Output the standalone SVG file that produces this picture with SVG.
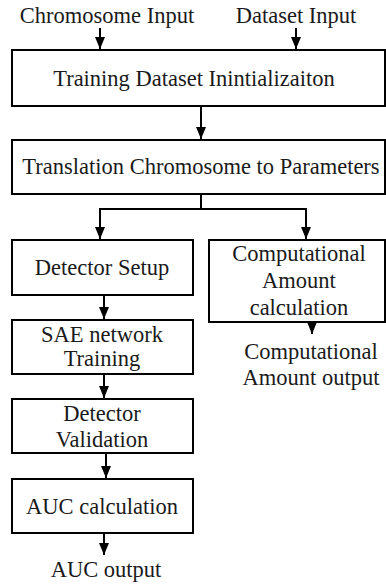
<svg xmlns="http://www.w3.org/2000/svg" width="386" height="587" viewBox="0 0 386 587">
  <style>
    .box { fill: #ffffff; stroke: #000000; stroke-width: 2; }
    .lbl { font-family: "Liberation Serif", "Times New Roman", serif; font-size: 22.5px; fill: #1a1a1a; text-anchor: middle; }
    .wire { fill: none; stroke: #000000; stroke-width: 2; }
  </style>
  <defs>
    <marker id="arrow" viewBox="0 0 12 10" refX="12" refY="5" markerWidth="12" markerHeight="10" markerUnits="userSpaceOnUse" orient="auto">
      <path d="M0,0 L12,5 L0,10 Z" fill="#000000"/>
    </marker>
  </defs>
  <rect width="386" height="587" fill="#ffffff"/>

  <!-- inputs -->
  <g id="chromosome-input"><text class="lbl" font-family="Liberation Serif" x="107" y="23">Chromosome Input</text></g>
  <g id="dataset-input"><text class="lbl" font-family="Liberation Serif" x="296" y="23">Dataset Input</text></g>

  <!-- processing steps -->
  <g id="training-init">
    <rect class="box" x="12" y="50" width="373" height="56"/>
    <text class="lbl" font-family="Liberation Serif" x="194" y="86">Training Dataset Inintializaiton</text>
  </g>
  <g id="translation">
    <rect class="box" x="12" y="140" width="373" height="54"/>
    <text class="lbl" font-family="Liberation Serif" x="201" y="174">Translation Chromosome to Parameters</text>
  </g>
  <g id="detector-setup">
    <rect class="box" x="12" y="240" width="181" height="55"/>
    <text class="lbl" font-family="Liberation Serif" x="102" y="275">Detector Setup</text>
  </g>
  <g id="computational-calc">
    <rect class="box" x="209" y="240" width="176" height="82"/>
    <text class="lbl" font-family="Liberation Serif" x="299" y="261">Computational</text>
    <text class="lbl" font-family="Liberation Serif" x="299" y="288">Amount</text>
    <text class="lbl" font-family="Liberation Serif" x="299" y="315">calculation</text>
  </g>
  <g id="sae-training">
    <rect class="box" x="12" y="320" width="181" height="54"/>
    <text class="lbl" font-family="Liberation Serif" x="102" y="342">SAE network</text>
    <text class="lbl" font-family="Liberation Serif" x="102" y="366">Training</text>
  </g>
  <g id="detector-validation">
    <rect class="box" x="12" y="399" width="181" height="54"/>
    <text class="lbl" font-family="Liberation Serif" x="102" y="421">Detector</text>
    <text class="lbl" font-family="Liberation Serif" x="102" y="447">Validation</text>
  </g>
  <g id="auc-calc">
    <rect class="box" x="12" y="479" width="181" height="54"/>
    <text class="lbl" font-family="Liberation Serif" x="102" y="514">AUC calculation</text>
  </g>

  <!-- outputs -->
  <g id="computational-output">
    <text class="lbl" font-family="Liberation Serif" x="311" y="359">Computational</text>
    <text class="lbl" font-family="Liberation Serif" x="311" y="385">Amount output</text>
  </g>
  <g id="auc-output"><text class="lbl" font-family="Liberation Serif" x="106" y="577">AUC output</text></g>

  <!-- connectors -->
  <g id="connectors">
    <line class="wire" x1="100" y1="28" x2="100" y2="49" marker-end="url(#arrow)"/>
    <line class="wire" x1="296" y1="28" x2="296" y2="49" marker-end="url(#arrow)"/>
    <line class="wire" x1="201" y1="106" x2="201" y2="139" marker-end="url(#arrow)"/>
    <polyline class="wire" points="201,194 201,209 100,209 100,239" marker-end="url(#arrow)"/>
    <polyline class="wire" points="201,209 306,209 306,239" marker-end="url(#arrow)"/>
    <line class="wire" x1="104" y1="295" x2="104" y2="319" marker-end="url(#arrow)"/>
    <line class="wire" x1="104" y1="374" x2="104" y2="398" marker-end="url(#arrow)"/>
    <line class="wire" x1="106" y1="453" x2="106" y2="478" marker-end="url(#arrow)"/>
    <line class="wire" x1="104" y1="533" x2="104" y2="555" marker-end="url(#arrow)"/>
    <line class="wire" x1="312" y1="322" x2="312" y2="334" marker-end="url(#arrow)"/>
  </g>
</svg>
